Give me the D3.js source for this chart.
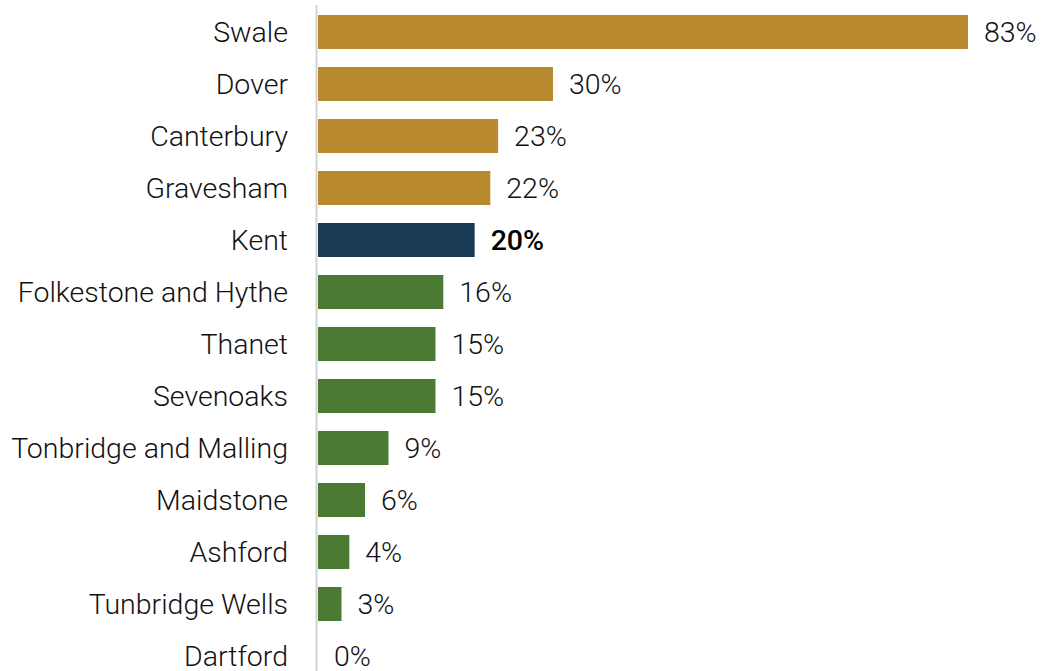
<!DOCTYPE html>
<html>
<head>
<meta charset="utf-8">
<script src="https://cdn.jsdelivr.net/npm/d3@7"></script>
<style>
  html, body { margin: 0; padding: 0; background: #fff; }
  svg { display: block; }
</style>
</head>
<body>
<svg id="chart" width="1046" height="671"></svg>
<script>
// District names, top to bottom
const districts = ["Swale", "Dover", "Canterbury", "Gravesham", "Kent", "Folkestone and Hythe",
  "Thanet", "Sevenoaks", "Tonbridge and Malling", "Maidstone", "Ashford", "Tunbridge Wells", "Dartford"];
// Percentage change per district
const values = [83, 30, 23, 22, 20, 16, 15, 15, 9, 6, 4, 3, 0];
// Group: above county average, county total, below county average
const groups = ["above", "above", "above", "above", "county", "below",
  "below", "below", "below", "below", "below", "below", "below"];

const colors = { above: "#B8892F", county: "#183A54", below: "#4A7A34" };

const svg = d3.select("#chart");
const W = 1046, H = 671;
const x0 = 318;

const rows = districts.map((d, i) => ({ name: d, value: values[i], group: groups[i] }));

const x = d3.scaleLinear().domain([0, 83]).range([x0, 968]);
const y = d3.scaleBand().domain(districts).range([6, 6 + 52 * districts.length]).paddingInner(0.346).paddingOuter(0.173);

// Bars
svg.append("g").selectAll("rect").data(rows).join("rect")
  .attr("x", x(0))
  .attr("y", d => y(d.name))
  .attr("width", d => x(d.value) - x(0))
  .attr("height", y.bandwidth())
  .attr("fill", d => colors[d.group]);

// Baseline
svg.append("line")
  .attr("x1", 316.5).attr("x2", 316.5)
  .attr("y1", 5).attr("y2", H)
  .attr("stroke", "#d4d4d4").attr("stroke-width", 2);

const font = "Roboto, 'Liberation Sans', Arial, sans-serif";
const fs = 28.5;

// Category labels
svg.append("g").selectAll("text").data(rows).join("text")
  .attr("x", 288)
  .attr("y", d => y(d.name) + y.bandwidth() / 2)
  .attr("dy", "0.34em")
  .attr("text-anchor", "end")
  .attr("font-family", font)
  .attr("font-size", fs)
  .attr("font-weight", 300)
  .attr("fill", "#111")
  .text(d => d.name);

// Value labels
svg.append("g").selectAll("text").data(rows).join("text")
  .attr("x", d => x(d.value) + 16)
  .attr("y", d => y(d.name) + y.bandwidth() / 2)
  .attr("dy", "0.34em")
  .attr("font-family", font)
  .attr("font-size", fs)
  .attr("font-weight", d => d.group === "county" ? 500 : 300)
  .attr("fill", d => d.group === "county" ? "#000" : "#111")
  .text(d => d.value + "%");
</script>
</body>
</html>
